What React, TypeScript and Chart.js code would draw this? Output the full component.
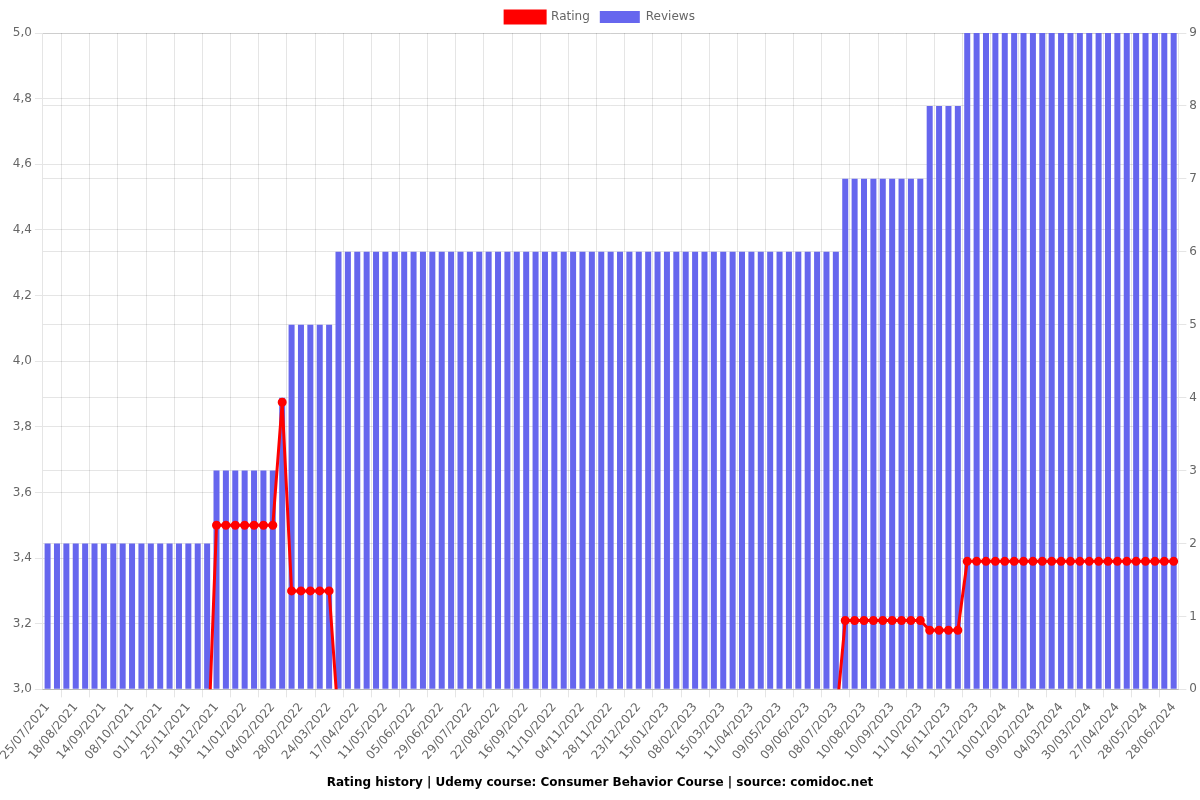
import React, { useEffect, useRef } from "react";
import { Chart, registerables } from "chart.js";

Chart.register(...registerables);

const dates: string[] = [
  "25/07/2021", "02/08/2021", "10/08/2021", "18/08/2021", "27/08/2021", "05/09/2021", "14/09/2021",
  "22/09/2021", "30/09/2021", "08/10/2021", "16/10/2021", "24/10/2021", "01/11/2021", "09/11/2021",
  "17/11/2021", "25/11/2021", "03/12/2021", "10/12/2021", "18/12/2021", "26/12/2021", "03/01/2022",
  "11/01/2022", "19/01/2022", "27/01/2022", "04/02/2022", "12/02/2022", "20/02/2022", "28/02/2022",
  "08/03/2022", "16/03/2022", "24/03/2022", "01/04/2022", "09/04/2022", "17/04/2022", "25/04/2022",
  "03/05/2022", "11/05/2022", "19/05/2022", "27/05/2022", "05/06/2022", "13/06/2022", "21/06/2022",
  "29/06/2022", "09/07/2022", "19/07/2022", "29/07/2022", "06/08/2022", "14/08/2022", "22/08/2022",
  "30/08/2022", "07/09/2022", "16/09/2022", "24/09/2022", "02/10/2022", "11/10/2022", "19/10/2022",
  "27/10/2022", "04/11/2022", "12/11/2022", "20/11/2022", "28/11/2022", "06/12/2022", "14/12/2022",
  "23/12/2022", "31/12/2022", "07/01/2023", "15/01/2023", "23/01/2023", "31/01/2023", "08/02/2023",
  "20/02/2023", "03/03/2023", "15/03/2023", "24/03/2023", "02/04/2023", "11/04/2023", "20/04/2023",
  "30/04/2023", "09/05/2023", "19/05/2023", "30/05/2023", "09/06/2023", "19/06/2023", "29/06/2023",
  "08/07/2023", "19/07/2023", "30/07/2023", "10/08/2023", "20/08/2023", "31/08/2023", "10/09/2023",
  "20/09/2023", "30/09/2023", "11/10/2023", "23/10/2023", "04/11/2023", "16/11/2023", "24/11/2023",
  "03/12/2023", "12/12/2023", "22/12/2023", "01/01/2024", "10/01/2024", "20/01/2024", "30/01/2024",
  "09/02/2024", "17/02/2024", "25/02/2024", "04/03/2024", "12/03/2024", "21/03/2024", "30/03/2024",
  "08/04/2024", "17/04/2024", "27/04/2024", "07/05/2024", "17/05/2024", "28/05/2024", "07/06/2024",
  "17/06/2024", "28/06/2024",
];

const rating: number[] = [
  2.75, 2.75, 2.75, 2.75, 2.75, 2.75, 2.75, 2.75, 2.75, 2.75, 2.75, 2.75, 2.75, 2.75, 2.75, 2.75, 2.75, 2.75,
  3.5, 3.5, 3.5, 3.5, 3.5, 3.5, 3.5,
  3.875,
  3.3, 3.3, 3.3, 3.3, 3.3,
  2.9, 2.9, 2.9, 2.9, 2.9, 2.9, 2.9, 2.9, 2.9, 2.9, 2.9, 2.9, 2.9, 2.9, 2.9, 2.9, 2.9, 2.9,
  2.9, 2.9, 2.9, 2.9, 2.9, 2.9, 2.9, 2.9, 2.9, 2.9, 2.9, 2.9, 2.9, 2.9, 2.9, 2.9, 2.9, 2.9,
  2.9, 2.9, 2.9, 2.9, 2.9, 2.9, 2.9, 2.9, 2.9, 2.9, 2.9, 2.9, 2.9, 2.9, 2.9, 2.9, 2.9, 2.9,
  3.21, 3.21, 3.21, 3.21, 3.21, 3.21, 3.21, 3.21, 3.21,
  3.18, 3.18, 3.18, 3.18,
  3.39, 3.39, 3.39, 3.39, 3.39, 3.39, 3.39, 3.39, 3.39, 3.39, 3.39, 3.39,
  3.39, 3.39, 3.39, 3.39, 3.39, 3.39, 3.39, 3.39, 3.39, 3.39, 3.39,
];

const reviews: number[] = [
  2, 2, 2, 2, 2, 2, 2, 2, 2, 2, 2, 2, 2, 2, 2, 2, 2, 2,
  3, 3, 3, 3, 3, 3, 3,
  4,
  5, 5, 5, 5, 5,
  6, 6, 6, 6, 6, 6, 6, 6, 6, 6, 6, 6, 6, 6, 6, 6, 6, 6,
  6, 6, 6, 6, 6, 6, 6, 6, 6, 6, 6, 6, 6, 6, 6, 6, 6, 6,
  6, 6, 6, 6, 6, 6, 6, 6, 6, 6, 6, 6, 6, 6, 6, 6, 6, 6,
  7, 7, 7, 7, 7, 7, 7, 7, 7,
  8, 8, 8, 8,
  9, 9, 9, 9, 9, 9, 9, 9, 9, 9, 9, 9,
  9, 9, 9, 9, 9, 9, 9, 9, 9, 9, 9,
];

const titleText = "Rating history | Udemy course: Consumer Behavior Course | source: comidoc.net";

export default function App() {
  const canvasRef = useRef<HTMLCanvasElement | null>(null);

  useEffect(() => {
    if (!canvasRef.current) return;
    Chart.defaults.font.family = "'DejaVu Sans', sans-serif";
    const chart = new Chart(canvasRef.current, {
      type: "bar",
      data: {
        labels: dates,
        datasets: [
          {
            type: "line",
            label: "Rating",
            data: rating,
            borderColor: "red",
            backgroundColor: "red",
            borderWidth: 3,
            pointRadius: 3,
            pointBackgroundColor: "red",
            pointBorderColor: "red",
            yAxisID: "y",
          } as any,
          {
            type: "bar",
            label: "Reviews",
            data: reviews,
            backgroundColor: "#6666ee",
            barPercentage: 0.8,
            categoryPercentage: 0.8,
            yAxisID: "y1",
          },
        ],
      },
      options: {
        animation: false,
        responsive: true,
        maintainAspectRatio: false,
        layout: { padding: { top: 1 } },
        plugins: {
          legend: { position: "top" },
          title: {
            display: true,
            position: "bottom",
            text: titleText,
            color: "#000",
            font: { weight: "bold", size: 12 },
          },
        },
        scales: {
          x: {},
          y: {
            position: "left",
            min: 3,
            max: 5,
            ticks: {
              stepSize: 0.2,
              callback: (v: any) => Number(v).toFixed(1).replace(".", ","),
            },
          },
          y1: {
            position: "right",
            min: 0,
            max: 9,
            ticks: { stepSize: 1 },
          },
        },
      },
    });
    return () => chart.destroy();
  }, []);

  return (
    <div style={{ position: "absolute", left: 0, top: 0, width: 1200, height: 800 }}>
      <canvas ref={canvasRef} />
    </div>
  );
}
